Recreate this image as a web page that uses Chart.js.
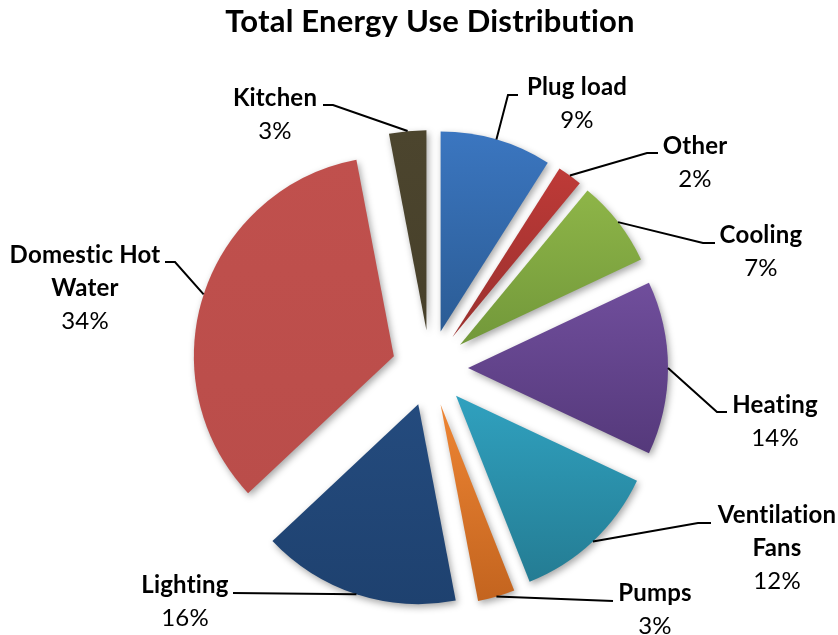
<!DOCTYPE html>
<html>
<head>
<meta charset="utf-8">
<script src="https://cdn.jsdelivr.net/npm/chart.js@4/dist/chart.umd.min.js"></script>
<style>
  html, body { margin: 0; padding: 0; background: #ffffff; }
  #wrap { width: 838px; height: 635px; }
</style>
</head>
<body>
<div id="wrap"><canvas id="chart" width="838" height="635"></canvas></div>
<script>
// ---- data ----
const categories = ['Plug load', 'Other', 'Cooling', 'Heating', 'Ventilation Fans', 'Pumps', 'Lighting', 'Domestic Hot Water', 'Kitchen'];
const shares = [9, 2, 7, 14, 12, 3, 16, 34, 3];
const labelLines = [['Plug load'], ['Other'], ['Cooling'], ['Heating'], ['Ventilation', 'Fans'], ['Pumps'], ['Lighting'], ['Domestic Hot', 'Water'], ['Kitchen']];

// ---- styling: light (top) and dark (bottom) gradient stops per slice ----
const lightColors = ['#3B76C0', '#BE3A37', '#8EB548', '#704E9C', '#30A1BF', '#EE8533', '#244B7E', '#C0504D', '#4C452E'];
const darkColors  = ['#2B5C95', '#9A302E', '#72983A', '#55397B', '#247C93', '#C3641F', '#1E416F', '#BA4D4A', '#47402A'];

// label text anchor (centre x, first line y) and leader elbow / end points
const labelLayout = [
  { x: 577, y: 87,  elbow: [508, 95],  end: [518, 95] },
  { x: 695, y: 146, elbow: [647, 153], end: [658, 153] },
  { x: 761, y: 235, elbow: [703, 243], end: [715, 243] },
  { x: 775, y: 405, elbow: [717, 412], end: [727, 412] },
  { x: 777, y: 515, elbow: [698, 523], end: [711, 523] },
  { x: 655, y: 593, elbow: [613, 601], end: [613, 601] },
  { x: 185, y: 585, elbow: [233, 593], end: [233, 593] },
  { x: 85,  y: 255, elbow: [175, 262], end: [165, 262] },
  { x: 275, y: 98,  elbow: [333, 105], end: [323, 105] }
];

const FONT = 'Lato';
const LABEL_SIZE = 24;
const LINE_STEP = 33;

// Pie slice pushed out whole along its bisector, with a vertical gradient and soft shadow
class ExplodedArc extends Chart.ArcElement {
  static id = 'explodedArc';
  draw(ctx) {
    const { x, y, startAngle, endAngle, outerRadius, circumference } = this;
    const o = this.options;
    if (!circumference) return;
    const mid = (startAngle + endAngle) / 2;
    const off = o.offset || 0;
    const cx = x + Math.cos(mid) * off;
    const cy = y + Math.sin(mid) * off;
    let top = cy, bottom = cy;
    [startAngle, endAngle].forEach(a => {
      const py = cy + Math.sin(a) * outerRadius;
      top = Math.min(top, py); bottom = Math.max(bottom, py);
    });
    [-Math.PI / 2, Math.PI / 2, 3 * Math.PI / 2].forEach(a => {
      if (a >= startAngle && a <= endAngle) {
        const py = cy + Math.sin(a) * outerRadius;
        top = Math.min(top, py); bottom = Math.max(bottom, py);
      }
    });
    const g = ctx.createLinearGradient(0, top, 0, bottom);
    g.addColorStop(0, o.backgroundColor);
    g.addColorStop(1, o.borderColor);
    ctx.save();
    ctx.shadowColor = 'rgba(0,0,0,0.35)';
    ctx.shadowBlur = 7;
    ctx.shadowOffsetX = 2;
    ctx.shadowOffsetY = 3;
    ctx.beginPath();
    ctx.moveTo(cx, cy);
    ctx.arc(cx, cy, outerRadius, startAngle, endAngle);
    ctx.closePath();
    ctx.fillStyle = g;
    ctx.fill();
    ctx.restore();
  }
}

class ExplodedPie extends Chart.PieController {
  static id = 'explodedPie';
  static defaults = { dataElementType: 'explodedArc' };
}

Chart.register(ExplodedArc, ExplodedPie);

// a hair of tracking keeps "ti" as two separate glyphs
const plainGlyphs = {
  id: 'plainGlyphs',
  beforeDraw(chart) {
    if ('letterSpacing' in chart.ctx) chart.ctx.letterSpacing = '0.2px';
  }
};

// Category names and percentages with leader lines back to each slice
const leaderLabels = {
  id: 'leaderLabels',
  afterDatasetsDraw(chart) {
    const ctx = chart.ctx;
    const meta = chart.getDatasetMeta(0);
    ctx.save();
    meta.data.forEach((arc, i) => {
      const lay = labelLayout[i];
      const mid = (arc.startAngle + arc.endAngle) / 2;
      const reach = (arc.options.offset || 0) + arc.outerRadius;
      const ax = arc.x + Math.cos(mid) * reach;
      const ay = arc.y + Math.sin(mid) * reach;
      ctx.beginPath();
      ctx.moveTo(ax, ay);
      ctx.lineTo(lay.elbow[0], lay.elbow[1]);
      ctx.lineTo(lay.end[0], lay.end[1]);
      ctx.strokeStyle = '#000000';
      ctx.lineWidth = 2;
      ctx.stroke();

      ctx.fillStyle = '#000000';
      ctx.textAlign = 'center';
      ctx.textBaseline = 'middle';
      const lines = labelLines[i];
      ctx.font = `bold ${LABEL_SIZE}px ${FONT}`;
      lines.forEach((t, k) => ctx.fillText(t, lay.x, lay.y + k * LINE_STEP));
      ctx.font = `${LABEL_SIZE}px ${FONT}`;
      ctx.fillText(shares[i] + '%', lay.x, lay.y + lines.length * LINE_STEP);
    });
    ctx.restore();
  }
};

function build() {
  new Chart(document.getElementById('chart'), {
    type: 'explodedPie',
    data: {
      labels: categories,
      datasets: [{
        data: shares,
        backgroundColor: lightColors,
        borderColor: darkColors,
        borderWidth: 0,
        offset: 38,
        clip: false
      }]
    },
    options: {
      responsive: false,
      animation: false,
      events: [],
      layout: { padding: { top: 0, left: 22, right: 0, bottom: 48 } },
      plugins: {
        legend: { display: false },
        tooltip: { enabled: false },
        title: {
          display: true,
          text: 'Total Energy Use Distribution',
          color: '#000000',
          font: { family: FONT, size: 31, weight: 'bold', lineHeight: 1.2 },
          padding: { top: 3.5, bottom: 108.3 }
        }
      }
    },
    plugins: [plainGlyphs, leaderLabels]
  });
}

Promise.all([
  document.fonts.load(`bold 24px ${FONT}`),
  document.fonts.load(`24px ${FONT}`)
]).then(build, build);
</script>
</body>
</html>
